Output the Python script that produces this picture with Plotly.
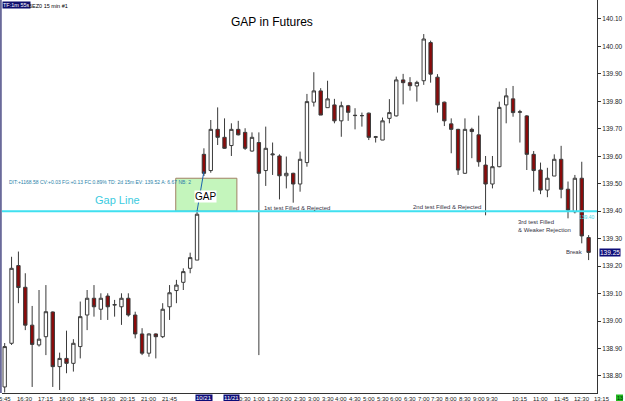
import plotly.graph_objects as go

# ---------------- data (15-min bars) ----------------
opens = [138.760, 138.919, 139.202, 139.123, 138.985, 138.913, 138.943, 139.033, 138.834, 138.864,
         138.846, 138.907, 139.022, 139.083, 139.043, 139.091, 139.058, 139.052, 139.083, 139.022,
         138.953, 138.883, 138.953, 138.943, 139.052, 139.111, 139.141, 139.192, 139.222, 139.607,
         139.548, 139.698, 139.669, 139.639, 139.698, 139.687, 139.619, 139.650, 139.548, 139.605,
         139.601, 139.529, 139.538, 139.499, 139.577, 139.797, 139.838, 139.777, 139.787, 139.729,
         139.784, 139.748, 139.748, 139.757, 139.669, 139.659, 139.738, 139.747, 139.878, 139.868,
         139.856, 139.875, 140.014, 139.888, 139.797, 139.718, 139.698, 139.538, 139.698, 139.678,
         139.568, 139.499, 139.562, 139.787, 139.809, 139.760, 139.747, 139.607, 139.550, 139.477,
         139.528, 139.589, 139.480, 139.398, 139.520, 139.304]
highs = [138.920, 139.234, 139.253, 139.174, 139.055, 139.113, 139.131, 139.035, 138.885, 138.965,
         138.934, 139.071, 139.113, 139.131, 139.101, 139.101, 139.077, 139.101, 139.101, 139.034,
         138.974, 138.955, 138.955, 139.065, 139.131, 139.150, 139.192, 139.249, 139.400, 139.629,
         139.732, 139.778, 139.738, 139.720, 139.729, 139.702, 139.687, 139.687, 139.708, 139.650,
         139.607, 139.599, 139.540, 139.617, 139.827, 139.906, 139.848, 139.875, 139.809, 139.799,
         139.787, 139.775, 139.759, 139.759, 139.674, 139.741, 139.808, 139.890, 139.900, 139.888,
         139.875, 140.045, 140.021, 139.899, 139.799, 139.738, 139.700, 139.738, 139.704, 139.748,
         139.601, 139.601, 139.799, 139.848, 139.856, 139.769, 139.750, 139.619, 139.577, 139.558,
         139.607, 139.638, 139.508, 139.532, 139.580, 139.313]
lows = [138.740, 138.913, 139.065, 138.967, 138.760, 138.907, 138.876, 138.760, 138.749, 138.810,
        138.816, 138.864, 138.967, 139.016, 139.004, 139.004, 139.016, 138.986, 139.016, 138.937,
        138.876, 138.870, 138.864, 138.938, 139.004, 139.065, 139.113, 139.174, 139.222, 139.528,
        139.540, 139.641, 139.627, 139.601, 139.676, 139.623, 139.617, 138.876, 139.492, 139.532,
        139.443, 139.483, 139.431, 139.471, 139.562, 139.781, 139.750, 139.777, 139.720, 139.671,
        139.729, 139.698, 139.708, 139.659, 139.650, 139.659, 139.720, 139.745, 139.789, 139.839,
        139.799, 139.860, 139.868, 139.759, 139.710, 139.611, 139.532, 139.536, 139.593, 139.562,
        139.385, 139.483, 139.560, 139.720, 139.744, 139.650, 139.550, 139.471, 139.462, 139.451,
        139.528, 139.447, 139.374, 139.392, 139.283, 139.222]
closes = [138.907, 139.192, 139.122, 138.985, 138.915, 138.934, 139.034, 138.834, 138.864, 138.846,
          138.919, 139.016, 139.083, 139.052, 139.083, 139.052, 139.060, 139.083, 139.022, 138.953,
          138.883, 138.953, 138.943, 139.043, 139.103, 139.131, 139.180, 139.231, 139.389, 139.538,
          139.698, 139.669, 139.629, 139.698, 139.678, 139.629, 139.669, 139.538, 139.629, 139.608,
          139.529, 139.538, 139.499, 139.589, 139.799, 139.838, 139.750, 139.809, 139.729, 139.784,
          139.760, 139.749, 139.748, 139.669, 139.671, 139.729, 139.759, 139.878, 139.868, 139.857,
          139.869, 140.027, 139.899, 139.787, 139.729, 139.698, 139.550, 139.698, 139.690, 139.580,
          139.499, 139.562, 139.778, 139.820, 139.759, 139.762, 139.607, 139.548, 139.477, 139.520,
          139.589, 139.480, 139.404, 139.520, 139.310, 139.250]
bar_index = list(range(len(opens)))

time_labels = ["5:45", "16:30", "17:15", "18:00", "18:45", "19:30", "20:15", "21:00", "21:45",
               "0:30", "1:00", "1:30", "2:00", "2:30", "3:00", "3:30", "4:00", "4:30", "5:00",
               "5:30", "6:00", "6:30", "7:00", "7:30", "8:00", "8:30", "9:00", "9:30",
               "10:15", "11:00", "11:45", "12:30", "13:15"]
time_label_bars = [0.1, 3, 6, 9, 12, 15, 18, 21, 24,
                   35, 37, 39, 41, 43, 45, 47, 49, 51, 53,
                   55, 57, 59, 61, 63, 65, 67, 69, 71,
                   75, 78, 81, 84, 87]
date_labels = ["10/21", "11/21"]
date_label_bars = [29, 33]

price_ticks = [138.80, 138.90, 139.00, 139.10, 139.20, 139.30, 139.40,
               139.50, 139.60, 139.70, 139.80, 139.90, 140.00, 140.10]

gap_level = 139.40
gap_top = 139.52
gap_box_bars = [24.9, 33.8]
gap_trend_bars = [28.0, 29.0]
gap_trend_prices = [139.40, 139.545]
last_price = 139.25
bar_counter = "13"

notes = ["1st test Filled & Rejected", "2nd test Filled & Rejected",
         "3rd test Filled<br>& Weaker Rejection", "Break"]
note_bars = [37.45, 59.1, 74.5, 81.4]
note_prices = [139.413, 139.417, 139.345, 139.252]

info_text = "DIT:+1168.58 CV:+0.03 FG:+0.13 FC:0.89% TD: 2d 15m EV: 139.52 A: 6.67 NB: 2"

# ---------------- figure ----------------
X_RANGE = [-0.39, 86.22]
Y_RANGE = [138.738, 140.169]
FONT = "Liberation Sans, Arial, sans-serif"


def bar_to_paper(b):
    return (b - X_RANGE[0]) / (X_RANGE[1] - X_RANGE[0])


fig = go.Figure()
fig.add_trace(go.Candlestick(
    x=bar_index, open=opens, high=highs, low=lows, close=closes,
    increasing=dict(line=dict(color="#3a3a3a", width=1), fillcolor="#ffffff"),
    decreasing=dict(line=dict(color="#3a3a3a", width=1), fillcolor="#8b0a0a"),
    whiskerwidth=0, showlegend=False, hoverinfo="skip"))

shapes = []
shapes.append(dict(type="rect", xref="x", yref="y", x0=gap_box_bars[0], x1=gap_box_bars[1],
                   y0=gap_level, y1=gap_top, fillcolor="#c4f5bc",
                   line=dict(color="#a08064", width=1), layer="below"))
shapes.append(dict(type="line", xref="paper", yref="y", x0=0, x1=1, y0=gap_level, y1=gap_level,
                   line=dict(color="#40e0f0", width=2)))
shapes.append(dict(type="line", xref="x", yref="y", x0=gap_trend_bars[0], x1=gap_trend_bars[1],
                   y0=gap_trend_prices[0], y1=gap_trend_prices[1],
                   line=dict(color="#1a62b0", width=1)))
shapes.append(dict(type="line", xref="paper", yref="paper", x0=-0.002, x1=-0.002, y0=0, y1=1,
                   line=dict(color="#6a6a9a", width=2)))
# green counter box (bottom-right corner)
shapes.append(dict(type="rect", xref="paper", yref="paper",
                   x0=1 + 19 / 595, x1=1 + 26 / 595, y0=-1.5 / 393, y1=-9 / 393,
                   fillcolor="#22b822", line=dict(width=0)))

ann = []
ann.append(dict(text="GAP in Futures", xref="paper", yref="paper", x=(272 - 2) / 595, y=1 - 22 / 393,
                xanchor="center", yanchor="middle", showarrow=False,
                font=dict(family=FONT, size=12, color="#000000")))
ann.append(dict(text="Gap Line", xref="paper", yref="y", x=(117 - 2) / 595, y=139.44,
                xanchor="center", yanchor="middle", showarrow=False,
                font=dict(family=FONT, size=11, color="#3ccbe0")))
ann.append(dict(text="GAP", xref="x", yref="y", x=29.3, y=139.452, xanchor="center", yanchor="middle",
                showarrow=False, bgcolor="#ffffff", borderpad=0,
                font=dict(family=FONT, size=10, color="#000000")))
ann.append(dict(text=info_text, xref="paper", yref="y", x=(7 - 2) / 595, y=139.505,
                xanchor="left", yanchor="middle", showarrow=False,
                font=dict(family=FONT, size=5, color="#2a7fa8")))
for t, b, p in zip(notes, note_bars, note_prices):
    ann.append(dict(text=t, xref="x", yref="y", x=b, y=p, xanchor="left", yanchor="middle",
                    showarrow=False, align="left",
                    font=dict(family=FONT, size=6, color="#333344")))
ann.append(dict(text="139.40", xref="paper", yref="y", x=1, y=gap_level, xanchor="right",
                yanchor="top", yshift=-1, showarrow=False,
                font=dict(family=FONT, size=5, color="#40d8e8")))
ann.append(dict(text=f"{last_price:.2f}", xref="paper", yref="y", x=1, y=last_price, xanchor="left",
                yanchor="middle", xshift=2, showarrow=False, bgcolor="#0c0c78", borderpad=0,
                font=dict(family=FONT, size=6.5, color="#ffffff")))
ann.append(dict(text="TF:1m 55s", xref="paper", yref="paper", x=0, y=1, xanchor="left", yanchor="top",
                yshift=-1, showarrow=False, bgcolor="#10106e", borderpad=0,
                font=dict(family=FONT, size=5.5, color="#ffffff")))
ann.append(dict(text="6EZ0 15 min #1", xref="paper", yref="paper", x=0, y=1, xanchor="left",
                yanchor="top", xshift=25, yshift=-1, showarrow=False,
                font=dict(family=FONT, size=5.5, color="#000000")))
for t, b in zip(time_labels, time_label_bars):
    ann.append(dict(text=t, xref="paper", yref="paper", x=bar_to_paper(b), y=0, xanchor="center",
                    yanchor="top", yshift=-1, showarrow=False,
                    font=dict(family=FONT, size=6, color="#222222")))
for t, b in zip(date_labels, date_label_bars):
    ann.append(dict(text=t, xref="paper", yref="paper", x=bar_to_paper(b), y=0, xanchor="center",
                    yanchor="top", yshift=-1, showarrow=False, bgcolor="#0c0c78", borderpad=0,
                    font=dict(family=FONT, size=6, color="#ffffff")))
ann.append(dict(text=bar_counter, xref="paper", yref="paper", x=1 + 22.5 / 595, y=-5.2 / 393,
                xanchor="center", yanchor="middle", showarrow=False,
                font=dict(family=FONT, size=5.5, color="#003300")))

fig.update_layout(
    width=625, height=401,
    margin=dict(l=2, r=28, t=0, b=8),
    paper_bgcolor="#ffffff", plot_bgcolor="#ffffff",
    shapes=shapes, annotations=ann,
    xaxis=dict(range=X_RANGE, rangeslider=dict(visible=False), showgrid=False, zeroline=False,
               showticklabels=False, ticks="", showline=True, linecolor="#333333", linewidth=1),
    yaxis=dict(range=Y_RANGE, side="right", tickvals=price_ticks,
               ticktext=[f"{v:.2f}" for v in price_ticks], showgrid=False, zeroline=False,
               ticks="outside", ticklen=3, tickcolor="#333333", showline=True,
               linecolor="#333333", linewidth=1,
               tickfont=dict(family=FONT, size=6.5, color="#222222")),
)

fig.write_html("out.html")
